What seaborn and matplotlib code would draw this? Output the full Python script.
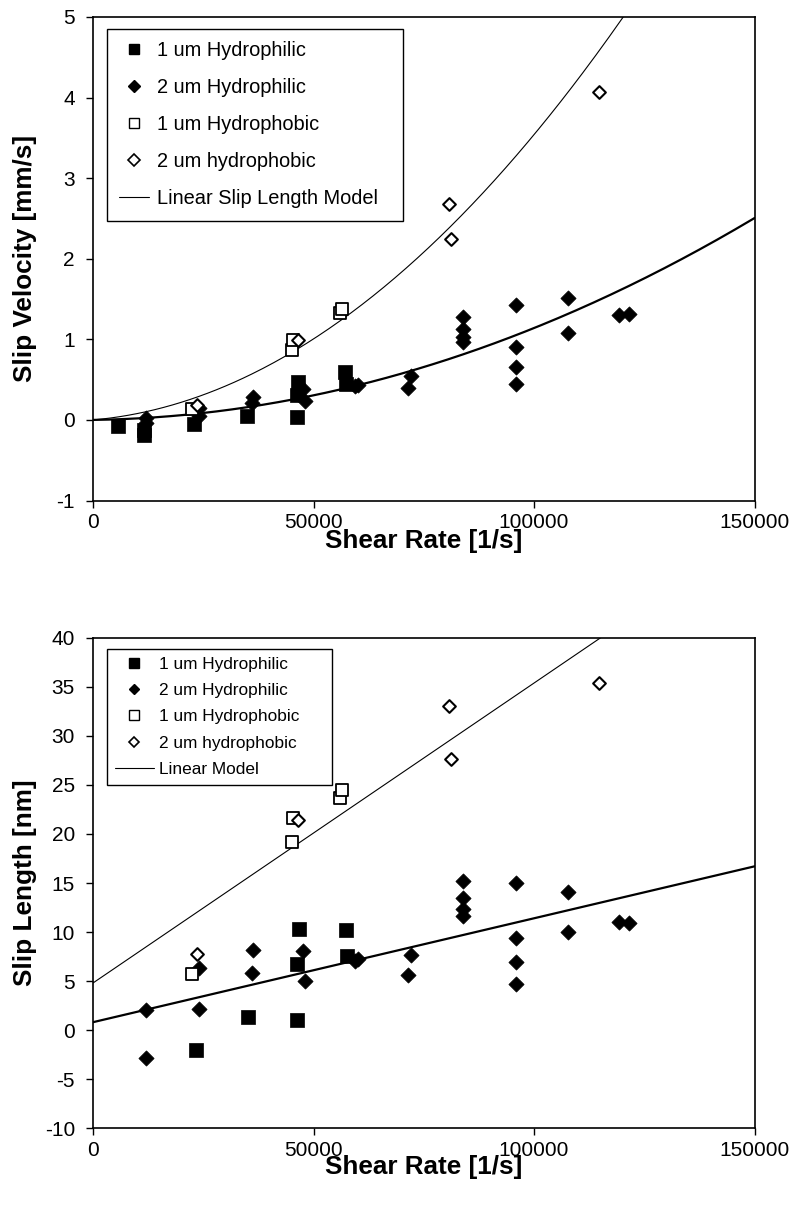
import numpy as np
import matplotlib.pyplot as plt
import seaborn as sns
from matplotlib.lines import Line2D

sns.set_style("ticks")
plt.rcParams['font.family'] = ['Liberation Sans', 'DejaVu Sans']
plt.rcParams['axes.unicode_minus'] = False
plt.rcParams['text.color'] = 'black'
plt.rcParams['axes.labelcolor'] = 'black'
plt.rcParams['xtick.color'] = 'black'
plt.rcParams['ytick.color'] = 'black'

# --- data ---
# 1 um hydrophilic (filled squares)
phil1_shear_v = [5700, 11500, 11500, 23000, 35000, 46300, 46300, 46500, 57100, 57300]
phil1_vel = [-0.08, -0.19, -0.12, -0.05, 0.05, 0.04, 0.31, 0.47, 0.60, 0.45]
phil1_shear_l = [23300, 35100, 46300, 46300, 46700, 57400, 57600]
phil1_len = [-2.0, 1.3, 1.0, 6.7, 10.3, 10.2, 7.6]

# 2 um hydrophilic (filled diamonds)
phil2_shear = [12000, 12000, 24000, 24000, 36000, 36300, 47600, 48000, 59500, 60000,
               71500, 72100, 84000, 84000, 84000, 84000, 95800, 95800, 95800, 95800,
               107800, 107800, 119300, 121500]
phil2_vel = [0.025, -0.035, 0.15, 0.05, 0.21, 0.29, 0.38, 0.24, 0.42, 0.43,
             0.40, 0.55, 1.28, 1.13, 1.03, 0.97, 1.43, 0.90, 0.66, 0.45,
             1.51, 1.08, 1.30, 1.31]
phil2_len = [2.0, -2.9, 6.3, 2.1, 5.8, 8.2, 8.1, 5.0, 7.0, 7.2,
             5.6, 7.7, 15.2, 13.5, 12.3, 11.6, 15.0, 9.4, 6.9, 4.7,
             14.1, 10.0, 11.0, 10.9]

# 1 um hydrophobic (open squares)
phob1_shear = [22500, 45200, 45400, 56100, 56500]
phob1_vel = [0.14, 0.87, 0.99, 1.33, 1.38]
phob1_len = [5.7, 19.2, 21.6, 23.7, 24.5]

# 2 um hydrophobic (open diamonds)
phob2_shear = [23500, 46400, 80800, 81100, 114800]
phob2_vel = [0.18, 0.99, 2.68, 2.24, 4.07]
phob2_len = [7.8, 21.4, 33.1, 27.6, 35.4]

# linear slip-length models: slip length [nm] = intercept + slope * shear rate
model_intercept = [0.8, 4.8]      # hydrophilic, hydrophobic
model_slope = [1.06e-4, 3.06e-4]
model_shear = np.linspace(0, 150000, 301)

labels = ['1 um Hydrophilic', '2 um Hydrophilic', '1 um Hydrophobic', '2 um hydrophobic']

fig = plt.figure(figsize=(7.93, 12.11), dpi=100)
ax1 = fig.add_axes([0.1173, 0.5867, 0.8342, 0.3993])
ax2 = fig.add_axes([0.1173, 0.0685, 0.8342, 0.4047])

line_w = [1.6, 0.8]

for ax, kind in [(ax1, 'vel'), (ax2, 'len')]:
    for a, b, lw in zip(model_intercept, model_slope, line_w):
        length = a + b * model_shear
        yv = model_shear * length * 1e-6 if kind == 'vel' else length
        sns.lineplot(x=model_shear, y=yv, color='black', lw=lw, ax=ax, zorder=1)

    if kind == 'vel':
        s1x, s1y, s2y, s3y, s4y = phil1_shear_v, phil1_vel, phil2_vel, phob1_vel, phob2_vel
    else:
        s1x, s1y, s2y, s3y, s4y = phil1_shear_l, phil1_len, phil2_len, phob1_len, phob2_len

    sns.scatterplot(x=s1x, y=s1y, marker='s', s=90, color='black', edgecolor='black',
                    linewidth=0.5, ax=ax, zorder=3)
    sns.scatterplot(x=phil2_shear, y=s2y, marker='D', s=60, color='black', edgecolor='black',
                    linewidth=0.5, ax=ax, zorder=3)
    sns.scatterplot(x=phob1_shear, y=s3y, marker='s', s=78, color='white', edgecolor='black',
                    linewidth=1.3, ax=ax, zorder=4)
    sns.scatterplot(x=phob2_shear, y=s4y, marker='D', s=42, color='white', edgecolor='black',
                    linewidth=1.5, ax=ax, zorder=4)

    ax.set_xlim(0, 150000)
    ax.set_xticks([0, 50000, 100000, 150000])
    ax.set_xticklabels(['0', '50000', '100000', '150000'])
    ax.tick_params(direction='out', length=5, width=1, labelsize=15, color='black')
    ax.tick_params(axis='x', pad=4)
    ax.tick_params(axis='y', pad=8)
    for sp in ax.spines.values():
        sp.set_color('black')
        sp.set_linewidth(1.2)
    ax.set_xlabel('Shear Rate [1/s]', fontsize=18.8, fontweight='bold')

ax1.set_ylim(-1, 5)
ax1.set_yticks(range(-1, 6))
ax1.set_ylabel('Slip Velocity [mm/s]', fontsize=18.8, fontweight='bold')
ax1.xaxis.set_label_coords(0.5, -0.058)
ax1.yaxis.set_label_coords(-0.085, 0.5)

ax2.set_ylim(-10, 40)
ax2.set_yticks(range(-10, 45, 5))
ax2.set_ylabel('Slip Length [nm]', fontsize=18.8, fontweight='bold')
ax2.xaxis.set_label_coords(0.5, -0.056)
ax2.yaxis.set_label_coords(-0.085, 0.5)


def make_handles(ms_scale, line_label):
    h = [
        Line2D([], [], ls='none', marker='s', ms=7 * ms_scale, color='black'),
        Line2D([], [], ls='none', marker='D', ms=5.5 * ms_scale, color='black'),
        Line2D([], [], ls='none', marker='s', ms=7 * ms_scale, mfc='white', mec='black', mew=1),
        Line2D([], [], ls='none', marker='D', ms=5.5 * ms_scale, mfc='white', mec='black', mew=1.2),
        Line2D([], [], color='black', lw=0.8),
    ]
    return h, labels + [line_label]


h1, l1 = make_handles(1.05, 'Linear Slip Length Model')
leg1 = ax1.legend(h1, l1, loc='upper left', mode='expand',
                  bbox_to_anchor=(0.021, 0.975, 0.4475, 0.0), borderaxespad=0,
                  fontsize=14.4, labelspacing=0.9, handlelength=1.5, handletextpad=0.4,
                  fancybox=False, framealpha=1, edgecolor='black', borderpad=0.62)
leg1.get_frame().set_linewidth(1.0)

h2, l2 = make_handles(0.95, 'Linear Model')
leg2 = ax2.legend(h2, l2, loc='upper left', mode='expand',
                  bbox_to_anchor=(0.021, 0.978, 0.340, 0.0), borderaxespad=0,
                  fontsize=12.4, labelspacing=0.66, handlelength=2.3, handletextpad=0.3,
                  fancybox=False, framealpha=1, edgecolor='black', borderpad=0.45)
leg2.get_frame().set_linewidth(1.0)

fig.savefig('out.png', dpi=100)
